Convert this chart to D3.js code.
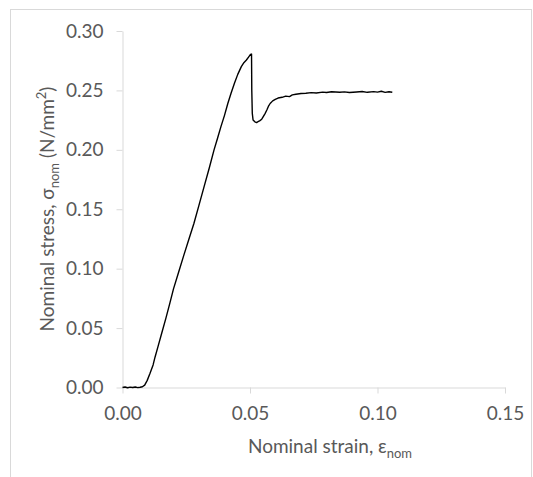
<!DOCTYPE html>
<html>
<head>
<meta charset="utf-8">
<script src="https://cdn.jsdelivr.net/npm/d3@7"></script>
<style>
  body { margin: 0; background: #fff; }
  svg { display: block; }
  text { font-family: Lato, "Open Sans", sans-serif; fill: #595959; }
</style>
</head>
<body>
<div id="chart"></div>
<script>
// strain / stress
const strain = [0, 0.001, 0.002, 0.003, 0.004, 0.005, 0.006, 0.0069, 0.0078, 0.0087, 0.0097, 0.0108, 0.012, 0.01275, 0.014, 0.01537, 0.017, 0.0186, 0.020, 0.022, 0.024, 0.026, 0.028, 0.030, 0.032, 0.034, 0.0359, 0.0373, 0.0386, 0.040, 0.0413, 0.0426, 0.0439, 0.0452, 0.0466, 0.0476, 0.0486, 0.0495, 0.0502, 0.0506,
  0.0507, 0.0509, 0.0512, 0.0519, 0.0526, 0.0532, 0.0539, 0.0546, 0.0552, 0.0559, 0.0566, 0.0572, 0.0579, 0.0589, 0.0599, 0.061, 0.0626, 0.064, 0.0655, 0.0666, 0.068, 0.070, 0.0719, 0.074, 0.076, 0.0785, 0.080, 0.082, 0.0852, 0.087, 0.089, 0.0918, 0.094, 0.096, 0.0985, 0.100, 0.1015, 0.103, 0.1045, 0.1058];
const stress = [0, 0.0004, -0.0002, 0.0003, 0, 0.0004, -0.0001, 0.0002, 0.0006, 0.002, 0.006, 0.012, 0.019, 0.0255, 0.035, 0.0456, 0.0582, 0.0712, 0.083, 0.097, 0.111, 0.1245, 0.138, 0.1535, 0.169, 0.1845, 0.200, 0.210, 0.2195, 0.229, 0.239, 0.2478, 0.256, 0.2635, 0.270, 0.2733, 0.2756, 0.2782, 0.2803, 0.2806,
  0.2500, 0.2307, 0.2251, 0.2236, 0.2229, 0.2238, 0.2246, 0.2258, 0.228, 0.2305, 0.2335, 0.2365, 0.239, 0.2412, 0.2425, 0.2436, 0.2442, 0.2452, 0.2448, 0.2462, 0.2468, 0.2474, 0.2476, 0.2481, 0.2478, 0.2486, 0.2482, 0.2489, 0.2485, 0.2488, 0.2483, 0.2487, 0.2491, 0.2484, 0.249, 0.2486, 0.2493, 0.2484, 0.2489, 0.2485];
const xTicks = [0, 0.05, 0.10, 0.15];
const yTicks = [0, 0.05, 0.10, 0.15, 0.20, 0.25, 0.30];

const W = 533, H = 477;
const margin = { top: 31, right: 28, bottom: 89.5, left: 122.5 };
const w = W - margin.left - margin.right;
const h = H - margin.top - margin.bottom;

const svg = d3.select("#chart").append("svg")
  .attr("width", W)
  .attr("height", H);

// chart area border
svg.append("rect")
  .attr("x", 10.5).attr("y", 9.5)
  .attr("width", 521).attr("height", 480)
  .attr("fill", "none")
  .attr("stroke", "#d9d9d9");

const g = svg.append("g")
  .attr("transform", "translate(" + margin.left + "," + margin.top + ")");

const x = d3.scaleLinear().domain([0, 0.15]).range([0, w]);
const y = d3.scaleLinear().domain([0, 0.30]).range([h, 0]);

const xAxis = d3.axisBottom(x).tickValues(xTicks).tickFormat(d3.format(".2f")).tickSize(6).tickPadding(13);
const yAxis = d3.axisLeft(y).tickValues(yTicks).tickFormat(d3.format(".2f")).tickSize(6).tickPadding(13);

const styleAxis = function (sel) {
  sel.select(".domain").attr("stroke", "#d9d9d9");
  sel.selectAll(".tick line").attr("stroke", "#d9d9d9");
  sel.selectAll(".tick text")
    .attr("fill", "#595959")
    .style("font-size", "19px")
    .style("font-family", "Lato, 'Open Sans', sans-serif");
};

g.append("g")
  .attr("transform", "translate(0," + h + ")")
  .call(xAxis)
  .call(s => s.select(".domain").attr("d", "M0.5,0.5H" + (w + 0.5)))
  .call(styleAxis);

g.append("g")
  .call(yAxis)
  .call(s => s.select(".domain").attr("d", "M0.5,0.5V" + (h + 0.5)))
  .call(styleAxis);

const data = strain.map((s, i) => ({ s: s, v: stress[i] }));

g.append("path")
  .datum(data)
  .attr("fill", "none")
  .attr("stroke", "#000")
  .attr("stroke-width", 1.4)
  .attr("stroke-linejoin", "round")
  .attr("d", d3.line().x(d => x(d.s)).y(d => y(d.v)));

// axis titles
const xt = svg.append("text")
  .attr("x", 330)
  .attr("y", 453)
  .attr("text-anchor", "middle")
  .style("font-size", "19px");
xt.append("tspan").text("Nominal strain, \u03b5");
xt.append("tspan").attr("dy", 5).style("font-size", "13px").text("nom");

const yt = svg.append("text")
  .attr("transform", "translate(54,209) rotate(-90)")
  .attr("text-anchor", "middle")
  .style("font-size", "19px");
yt.append("tspan").text("Nominal stress, \u03c3");
yt.append("tspan").attr("dy", 5).style("font-size", "13px").text("nom");
yt.append("tspan").attr("dy", -5).text(" (N/mm");
yt.append("tspan").attr("dy", -8).style("font-size", "13px").text("2");
yt.append("tspan").attr("dy", 8).text(")");
</script>
</body>
</html>
